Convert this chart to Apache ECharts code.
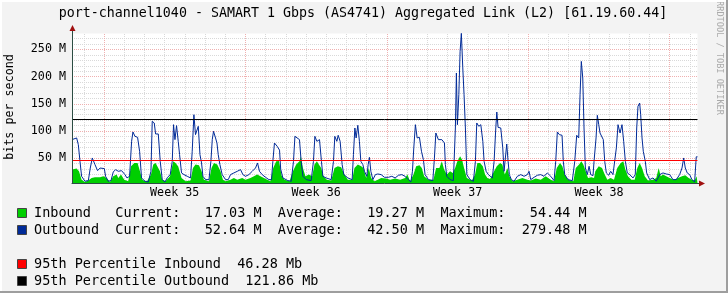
<!DOCTYPE html>
<html><head><meta charset="utf-8">
<script src="https://cdn.jsdelivr.net/npm/echarts@6/dist/echarts.min.js"></script>
<style>html,body{margin:0;padding:0;background:#F3F3F3;overflow:hidden}#c{width:728px;height:293px}</style>
</head><body><div id="c"></div>
<script>
// ---- data (time in hours from start of Week 35, values in Mbit/s) ----
const titleText = 'port-channel1040 - SAMART 1 Gbps (AS4741) Aggregated Link (L2) [61.19.60.44]';
const xRange = [-38, 705];
const yRange = [4.5, 279.48];

const outHours = [-38,-32.5,-30.5,-28.5,-26.6,-22.6,-18.6,-16.3,-13.9,-10.7,-7.6,-4.7,0.4,1.9,5.1,8.3,11,13.8,17,20.9,24.9,27.3,30.4,32.8,34.4,36.8,39.9,42.3,44.6,48.7,52.6,55.8,57.3,59.7,61.3,64.5,66.8,69.2,72.4,75.5,78.7,81.1,82.6,84.3,86.2,88.2,89.8,92.1,95,98.9,102.8,104.8,106.8,108.7,110.8,112,114,115.9,117.5,120.6,124.7,127,128.6,130.1,132.5,134.2,135.7,137.7,140.4,144.4,147.6,150.3,154.3,158.3,162.2,165,168.1,172.1,176.1,180,182.4,184.7,187.9,191.9,195.9,199,200.6,202.5,205.7,208.5,209.9,212.5,218.4,222.4,225.1,226.8,229.1,232.2,234.2,236.3,240.2,246.1,248.8,250.5,252.9,256,258.3,260,263.9,269.9,272.6,274.2,276.6,278.2,280.5,282.9,284.9,289.7,294.8,296.3,298,299.5,301.5,303.4,305.1,307.5,309.4,312.2,313.8,315.3,317,319.4,322.4,325.3,329.2,333.1,335.1,337.9,341.9,345.8,349.8,353.8,357.7,361.6,364.5,366.4,368,369.9,372,374.7,377.1,379.4,381.4,385.4,390.6,392.5,394.2,397.2,401.3,404.4,405.5,407.2,411.1,415,417.4,418.6,419.8,421.5,423,424.5,426.2,427.7,429.3,431,434.9,438.8,441.2,442.8,445.2,447.6,450,451.5,453.9,456.6,458.6,461.3,463.4,465.4,466.6,468.1,471.3,473.7,475.2,476.8,478.4,480,481.5,483.9,487.1,491,495.1,499,502.9,504.9,506.9,510.9,514.8,518.8,522.7,526.6,530.7,534.6,536.6,538.5,540.9,544.1,545.6,547.3,551.2,556.3,559.2,561.5,563.9,565.5,567,568.7,570.2,571.8,574.1,576.2,578.2,580.9,582.1,584.5,586,587.7,589.2,590.8,593.1,594.8,596.7,599.5,601.9,604.6,606.6,608.6,610.6,613,615.3,617.3,619.3,621.6,624.5,628.4,631.1,632.8,634.3,636.3,637.5,639.1,640.6,643,644.6,648.2,652.1,656,660.1,664,667.9,672,675.9,679.8,683.8,686.6,688.6,690.5,692.8,695.7,698.4,701.6,703.5,705];
const outVals = [84.2,87.3,75,44.4,16.8,7.7,8.9,32,50.5,38.3,27.2,32,31,16.8,7.7,8.9,24.8,29.1,26,27.2,19.9,13.8,16.8,81.1,98.3,90.3,88.5,62.8,13.8,7.7,6.4,26,117.9,114.8,94.6,94.6,44.4,10.7,6.4,15,19.9,44.4,111.7,84.2,110,81,56.6,23,19.9,16.8,13.8,62.8,130,93.4,93.4,108.7,56.6,41.3,16.8,10.7,10.7,44.4,84.2,99.5,87.3,78,56.6,38.3,19.9,10.7,10.7,19.9,23,26,29.1,19.9,16.8,19.9,26,32.1,41.3,26,19.9,15,10.7,10.7,44.4,78,72,65,30,13.8,8.9,7.7,44.4,90.3,87.3,84.2,44.4,16.8,10.7,8.9,44.4,90.3,81.1,84.2,44.4,16.8,13.8,10.7,44.4,90.3,81.1,92.2,81.1,38.3,19.9,13.8,10.7,56.6,105.6,87.3,110.5,81.1,44.4,38.3,26,16.8,38.3,51.7,26,10.7,19.9,21.1,19.9,15,15,15,16.8,13.8,18.7,19.9,16.8,10.7,6.4,26,68.9,111.7,87.3,88.5,62.8,47.4,19.9,10.7,8.9,50.5,96.4,84.2,84.2,78,38.3,16.8,10.7,8.9,105.6,206.7,111.7,166.8,246.4,279.48,216,166.8,105.6,19.9,10.7,7.7,44.4,114.8,108.7,111.7,81.1,44.4,26,19.9,20,13.8,44.4,105.6,135,106.8,105.6,68.9,26,50.5,76.2,44.4,19.9,10.7,7.7,16.8,19.9,16.8,19.9,26,10.7,15,18.7,19.9,16.8,23,16.8,8.9,44.4,98.3,93.4,92.2,44.4,19.9,10.7,8.9,44.4,92.2,87.3,166.8,228,197.5,105.6,32.1,19.9,35.2,19.9,18,44.4,87.3,128.9,111.7,96.4,93.4,84.2,44.4,23,18.7,26,19.9,19.9,68.9,111.7,96.4,111.7,81.1,44.4,23,19.9,13.8,19.9,105.6,145.4,151.5,130,87.3,62.8,44.4,23,10.7,13.8,7.7,19.9,23,21.1,19.9,10.7,10.7,19.9,32.1,50.5,32.1,23,19.9,10.7,6.4,52.64,52.64];

const inHours = [-38,-32.5,-29.7,-26.6,-22.6,-18.6,-14.7,-10.7,-4.7,-0.8,3.1,7.1,11,15,17,20.2,24.1,28.8,32.1,36,39.9,42.7,45.5,50.6,55.8,58.5,61.3,63.6,66.5,69.2,73.1,78.4,82.3,85,88.2,92.1,96.9,102.8,105.7,108.7,112.8,115.9,118.7,124.7,127.7,130.6,134.5,138.4,141.3,144.4,150.3,154.3,158.3,164.2,168.1,174,178.1,182,185.9,190,193.9,197.8,201,204.6,207.8,209.7,211,214.4,220.3,224.4,228.3,232.2,233.9,236.3,239.3,243.4,247.3,250,252.9,255.2,258,260.7,264.7,269.9,273.8,277.8,281.7,285.6,289.7,294.8,297.5,301.5,305.5,308.2,311.4,314.6,317.3,321.3,325.3,329.2,335.1,339.9,345.8,351.8,357.7,360.4,363.6,367.6,370.8,374.7,377.5,380.3,385.4,391.3,394.5,398.4,401.3,404,407.2,411.1,414.3,417.1,419.8,423,425.4,427.7,431,436.9,440.8,443.5,446.7,450,452.7,455.4,458.6,463.4,466.6,470.5,473.2,476.1,479.2,481.5,485.1,491,497,502.9,506.9,512.9,518.8,524.7,530.7,534.6,537.8,541.7,544.5,547.3,551.2,557.5,560.4,564.3,567,569.4,572.2,575,578.9,582.1,583.6,587.7,591.6,594.8,597.9,601.9,605.8,609.7,613.8,616.9,619.3,622.4,626.4,630.4,633.5,636.3,639.1,642.3,646.2,652.1,656,658.9,661.3,664,667.9,672,677,681.8,686.6,690.5,694.5,698.4,701.6,704,705];
const inVals = [29.1,31,26,10.7,6.4,8.9,13.8,15,15,16.8,13.8,6.4,16.8,19.9,13.8,19.9,10.7,7.7,35.2,41.3,41.3,26,10.7,6.4,19.9,38.3,41.3,38.3,26,10.7,7.7,16.8,44.4,41.3,35,13.8,7.7,8.9,32.1,38.3,37,26,10.7,7.7,32.1,41.3,38.3,26,10.7,7.7,10.7,13.8,10.7,13.8,10.7,13.8,16.8,19.9,16.8,13.8,10.7,7.7,32.1,44.4,45,30,18,10.7,7.7,26,38.3,44.4,53.6,32.1,16.8,19.9,16.8,38.3,44.4,38.3,32.1,16.8,10.7,8.9,32.1,35.2,33.4,19.9,10.7,10.7,32.1,38.3,35.2,32.1,13.8,32.1,13.8,7.7,10.7,13.8,12.6,10.7,12.6,10.7,13.8,19.9,7.7,19.9,35.2,37,32.1,16.8,10.7,10.7,32.1,32.1,44.4,29.1,19.9,26,23,32.1,44.4,53.6,47.4,32.1,13.8,8.9,19.9,41.3,41.3,35.2,19.9,13.8,12,26,35.2,41.3,38.3,19.9,32.1,16.8,7.7,10.7,13.8,10.7,8.9,12.6,10.7,16.8,10.7,7.7,32.1,41.3,35.2,19.9,10.7,7.7,32.1,38.3,44.4,38.3,26,13.8,15,13.8,26,35.2,32.1,19.9,10.7,13.8,10.7,32.1,41.3,44.4,29.1,16.8,10.7,10.7,32.1,41.3,32.1,16.8,8.9,10.7,13.8,32.1,16.8,19.9,16.8,13.8,10.7,13.8,16.8,18.7,13.8,10.7,8.9,17.03,17.03];

const pct95In = 46.28;
const pct95Out = 121.86;

const yTickValues = [50, 100, 150, 200, 250];
const yTickLabels = ['50 M', '100 M', '150 M', '200 M', '250 M'];
const weekCenterHours = [84, 252, 420, 588];
const weekLabels = ['Week 35', 'Week 36', 'Week 37', 'Week 38'];
const weekStartHours = [0, 168, 336, 504, 672];
const dayStartHours = [-24, 24, 48, 72, 96, 120, 144, 192, 216, 240, 264, 288, 312, 360, 384, 408, 432, 456, 480, 528, 552, 576, 600, 624, 648, 696];
const yMinorGrid = [10,20,30,40,60,70,80,90,110,120,130,140,160,170,180,190,210,220,230,240,260,270];
const yMajorGrid = [50, 100, 150, 200, 250];

const seriesNames = ['Inbound', 'Outbound'];
const seriesColors = ['#00CF00', '#002A97'];
const currentM = [17.03, 52.64];
const averageM = [19.27, 42.50];
const maximumM = [54.44, 279.48];
const pctNames = ['95th Percentile Inbound', '95th Percentile Outbound'];
const pctValues = [46.28, 121.86];
const pctColors = ['#FF0000', '#000000'];

// ---- chart ----
const FONT = '"DejaVu Sans Mono", monospace';
const chart = echarts.init(document.getElementById('c'), null, {renderer: 'canvas'});

const minorC = '#D9D9D9', majorC = '#EFB0B0';
const gridLines = [];
dayStartHours.forEach(h => gridLines.push({xAxis: h, lineStyle: {color: minorC, type: [1, 1], width: 1}}));
yMinorGrid.forEach(v => gridLines.push({yAxis: v, lineStyle: {color: minorC, type: [1, 1], width: 1}}));
weekStartHours.forEach(h => gridLines.push({xAxis: h, lineStyle: {color: majorC, type: [1, 1], width: 1}}));
yMajorGrid.forEach(v => gridLines.push({yAxis: v, lineStyle: {color: majorC, type: [1, 1], width: 1}}));

const legendLines = seriesNames.map((n, i) =>
  n.padEnd(10) + 'Current:' + currentM[i].toFixed(2).padStart(8) + ' M  Average:' +
  averageM[i].toFixed(2).padStart(8) + ' M  Maximum:' + maximumM[i].toFixed(2).padStart(8) + ' M');
const pctLines = pctNames.map((n, i) => n + '  ' + pctValues[i].toFixed(2) + ' Mb');

const legendY = [213, 230, 264, 281];
const graphics = [];
[...legendLines, ...pctLines].forEach((t, i) => {
  const col = i < 2 ? seriesColors[i] : pctColors[i - 2];
  graphics.push({type: 'rect', shape: {x: 17.5, y: legendY[i] - 4.5, width: 9, height: 9},
    style: {fill: col, stroke: '#444', lineWidth: 1}});
  graphics.push({type: 'text', x: 34, y: legendY[i],
    style: {text: t, font: '13.5px ' + FONT, fill: '#000', verticalAlign: 'middle', align: 'left'}});
});
graphics.push({type: 'text', x: 363, y: 14,
  style: {text: titleText, font: '13.3px ' + FONT, fill: '#000', align: 'center', verticalAlign: 'middle'}});
graphics.push({type: 'text', x: 10, y: 107, rotation: Math.PI / 2,
  style: {text: 'bits per second', font: '11.7px ' + FONT, fill: '#000', align: 'center', verticalAlign: 'middle'}});
graphics.push({type: 'text', x: 719, y: 58, rotation: -Math.PI / 2,
  style: {text: 'RRDTOOL / TOBI OETIKER', font: '8.6px ' + FONT, fill: '#AAAAAA', align: 'center', verticalAlign: 'middle'}});
// axis extensions and arrowheads
graphics.push({type: 'line', shape: {x1: 72.5, y1: 34, x2: 72.5, y2: 29}, style: {stroke: '#2C4D43', lineWidth: 1}});
graphics.push({type: 'polygon', shape: {points: [[69.5, 31], [75.5, 31], [72.5, 25]]}, style: {fill: '#A01010'}});
graphics.push({type: 'line', shape: {x1: 697, y1: 183.5, x2: 700, y2: 183.5}, style: {stroke: '#2C4D43', lineWidth: 1}});
graphics.push({type: 'polygon', shape: {points: [[699, 180.5], [699, 186.5], [705, 183.5]]}, style: {fill: '#A01010'}});
// frame
graphics.push({type: 'line', shape: {x1: 0, y1: 292, x2: 728, y2: 292}, style: {stroke: '#9E9E9E', lineWidth: 2}});
graphics.push({type: 'line', shape: {x1: 727, y1: 0, x2: 727, y2: 293}, style: {stroke: '#9E9E9E', lineWidth: 2}});
graphics.push({type: 'line', shape: {x1: 0, y1: 1, x2: 726, y2: 1}, style: {stroke: '#FFFFFF', lineWidth: 2}});
graphics.push({type: 'line', shape: {x1: 1, y1: 0, x2: 1, y2: 291}, style: {stroke: '#FFFFFF', lineWidth: 2}});

const option = {
  animation: false,
  backgroundColor: '#F3F3F3',
  textStyle: {fontFamily: FONT},
  grid: {left: 72, right: 30.5, top: 33.4, bottom: 110, show: true, backgroundColor: '#FFFFFF', borderWidth: 0,
    containLabel: false, outerBoundsMode: 'none'},
  xAxis: {
    type: 'value', min: xRange[0], max: xRange[1], z: 10,
    splitLine: {show: false}, axisTick: {show: false},
    axisLine: {show: true, onZero: false, lineStyle: {color: '#2C4D43', width: 1}},
    axisLabel: {customValues: weekCenterHours, margin: 4, color: '#000', fontSize: 11.7, fontFamily: FONT,
      formatter: v => weekLabels[weekCenterHours.indexOf(v)] || ''}
  },
  yAxis: {
    type: 'value', min: yRange[0], max: yRange[1], z: 10,
    splitLine: {show: false}, axisTick: {show: false},
    axisLine: {show: true, onZero: false, lineStyle: {color: '#2C4D43', width: 1}},
    axisLabel: {customValues: yTickValues, margin: 6, color: '#000', fontSize: 11.7, fontFamily: FONT,
      formatter: v => yTickLabels[yTickValues.indexOf(v)] || ''}
  },
  graphic: graphics,
  series: [
    {type: 'line', data: [], z: 1, silent: true,
     markLine: {z: 1, silent: true, symbol: ['none', 'none'], label: {show: false}, animation: false,
       emphasis: {disabled: true}, data: gridLines}},
    {name: 'Inbound', type: 'line', z: 2, silent: true, showSymbol: false, symbol: 'none',
     data: inHours.map((h, i) => [h, inVals[i]]),
     lineStyle: {width: 0, color: '#00CF00'}, areaStyle: {color: '#00CF00', opacity: 1, origin: 'start'}},
    {name: 'Outbound', type: 'line', z: 3, silent: true, showSymbol: false, symbol: 'none',
     data: outHours.map((h, i) => [h, outVals[i]]),
     lineStyle: {width: 1, color: '#002A97'}},
    {type: 'line', data: [], z: 4, silent: true,
     markLine: {z: 6, silent: true, symbol: ['none', 'none'], label: {show: false}, animation: false,
       emphasis: {disabled: true},
       data: [{yAxis: pct95In, lineStyle: {color: '#FF0000', type: 'solid', width: 1}},
              {yAxis: pct95Out, lineStyle: {color: '#000000', type: 'solid', width: 1}}]}}
  ]
};
chart.setOption(option);
</script></body></html>
